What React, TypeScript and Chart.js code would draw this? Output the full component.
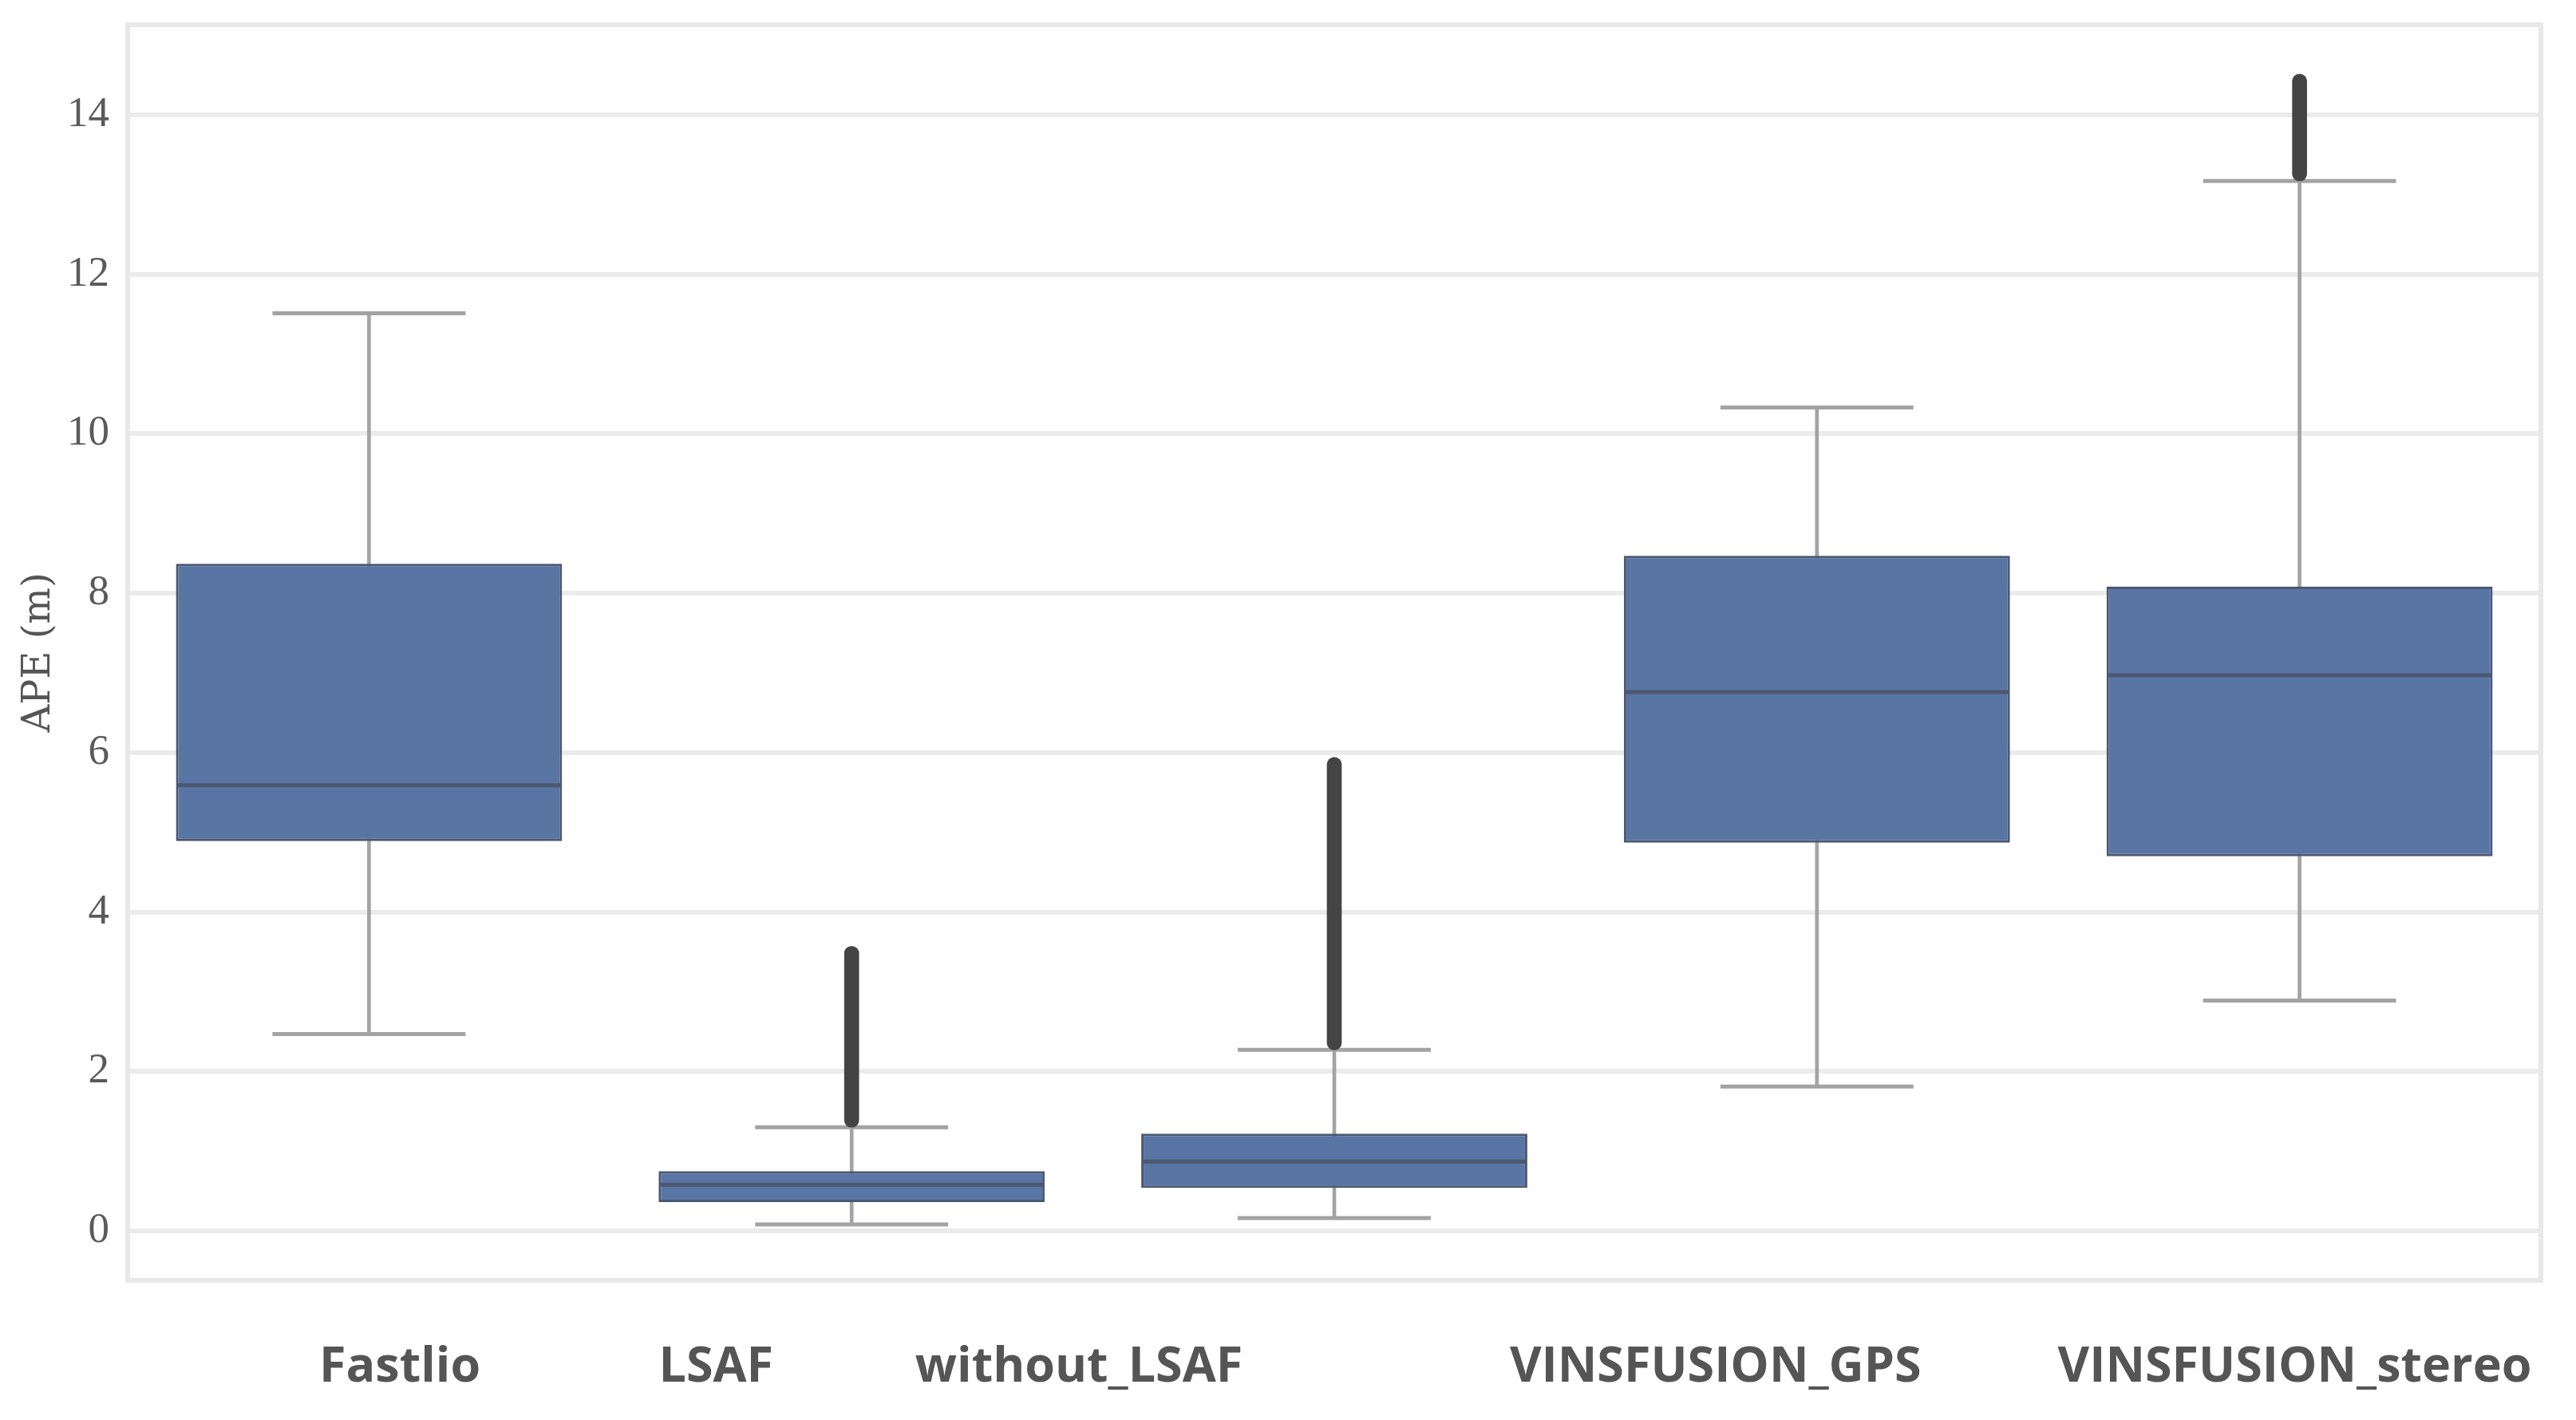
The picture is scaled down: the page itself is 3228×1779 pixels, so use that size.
import React, { useEffect, useRef } from 'react';
import { Chart, registerables } from 'chart.js';

Chart.register(...registerables);

// ---- data ----
const categories = ['Fastlio', 'LSAF', 'without_LSAF', 'VINSFUSION_GPS', 'VINSFUSION_stereo'];
const whiskerLow = [2.47, 0.08, 0.16, 1.81, 2.89];
const q1 = [4.89, 0.36, 0.54, 4.87, 4.7];
const median = [5.59, 0.58, 0.87, 6.76, 6.97];
const q3 = [8.37, 0.75, 1.22, 8.47, 8.08];
const whiskerHigh = [11.51, 1.3, 2.27, 10.33, 13.17];
const outlierLow: (number | null)[] = [null, 1.3, 2.27, null, 13.17];
const outlierHigh: (number | null)[] = [null, 3.57, 5.94, null, 14.51];
const yTicks = [0, 2, 4, 6, 8, 10, 12, 14];
const yAxisTitle = 'APE (m)';

// label placement (category units) — the pasted labels are shifted off the box centres
const labelShift = [0.064, -0.281, -0.529, -0.21, -0.01];

const BOX_FILL = '#5975a4';
const BOX_EDGE = '#4c5870';
const WHISKER = '#a3a3a3';
const FLIER = '#444444';

const catWidth = (chart: any) => {
  const x = chart.scales.x;
  return x.getPixelForValue(1) - x.getPixelForValue(0);
};

const framePlugin = {
  id: 'frame',
  beforeDatasetsDraw(chart: any) {
    const { ctx, chartArea } = chart;
    ctx.save();
    ctx.strokeStyle = '#e8e8e8';
    ctx.lineWidth = 6;
    ctx.strokeRect(chartArea.left, chartArea.top, chartArea.right - chartArea.left, chartArea.bottom - chartArea.top);
    ctx.restore();
  },
};

const xLabelPlugin = {
  id: 'xLabels',
  afterDraw(chart: any) {
    const { ctx } = chart;
    const x = chart.scales.x;
    ctx.save();
    ctx.font = 'bold 61px "Open Sans"';
    ctx.fillStyle = '#555555';
    ctx.textAlign = 'center';
    ctx.textBaseline = 'alphabetic';
    categories.forEach((c, i) => {
      ctx.fillText(c, x.getPixelForValue(i + labelShift[i]), 1731);
    });
    ctx.restore();
  },
};

export default function App() {
  const ref = useRef<HTMLCanvasElement | null>(null);

  useEffect(() => {
    if (!ref.current) return;
    const capRadius = (c: any) => catWidth(c.chart) * 0.2;
    const medRadius = (c: any) => catWidth(c.chart) * 0.4 - 2;
    const chart = new Chart(ref.current, {
      type: 'bar',
      data: {
        labels: categories,
        datasets: [
          {
            type: 'bar',
            label: 'whisker',
            data: categories.map((_, i) => [whiskerLow[i], whiskerHigh[i]]) as any,
            backgroundColor: WHISKER,
            barThickness: 4,
            grouped: false,
            borderWidth: 0,
            order: 6,
          } as any,
          {
            type: 'line',
            label: 'capLow',
            data: whiskerLow,
            showLine: false,
            pointStyle: 'line',
            pointBorderColor: WHISKER,
            pointBackgroundColor: WHISKER,
            pointBorderWidth: 5,
            pointRadius: capRadius,
            pointHoverRadius: capRadius,
            order: 5,
          } as any,
          {
            type: 'line',
            label: 'capHigh',
            data: whiskerHigh,
            showLine: false,
            pointStyle: 'line',
            pointBorderColor: WHISKER,
            pointBackgroundColor: WHISKER,
            pointBorderWidth: 5,
            pointRadius: capRadius,
            pointHoverRadius: capRadius,
            order: 5,
          } as any,
          {
            type: 'bar',
            label: 'box',
            data: categories.map((_, i) => [q1[i], q3[i]]) as any,
            backgroundColor: BOX_FILL,
            borderColor: BOX_EDGE,
            borderWidth: 3,
            borderSkipped: false,
            barPercentage: 0.8,
            categoryPercentage: 1,
            grouped: false,
            order: 4,
          } as any,
          {
            type: 'line',
            label: 'median',
            data: median,
            showLine: false,
            pointStyle: 'line',
            pointBorderColor: BOX_EDGE,
            pointBackgroundColor: BOX_EDGE,
            pointBorderWidth: 5,
            pointRadius: medRadius,
            pointHoverRadius: medRadius,
            order: 3,
          } as any,
          {
            type: 'bar',
            label: 'outliers',
            data: categories.map((_, i) =>
              outlierLow[i] == null ? null : [outlierLow[i], outlierHigh[i]]
            ) as any,
            backgroundColor: FLIER,
            barThickness: 18,
            borderRadius: 9,
            borderSkipped: false,
            borderWidth: 0,
            grouped: false,
            order: 2,
          } as any,
        ],
      },
      options: {
        animation: false,
        responsive: false,
        devicePixelRatio: 1,
        layout: { padding: { left: 0, top: 31, right: 44, bottom: 0 } },
        plugins: {
          legend: { display: false },
          tooltip: { enabled: false },
        },
        events: [],
        scales: {
          x: {
            type: 'category',
            offset: true,
            grid: { display: false },
            border: { display: false },
            ticks: { display: false },
            afterFit: (s: any) => {
              s.height = 175;
              s.paddingLeft = 0;
              s.paddingRight = 0;
            },
          },
          y: {
            type: 'linear',
            min: -0.62,
            max: 15.13,
            afterBuildTicks: (s: any) => {
              s.ticks = yTicks.map((v) => ({ value: v }));
            },
            afterFit: (s: any) => {
              s.width = 160;
              s.paddingTop = 0;
              s.paddingBottom = 0;
            },
            grid: { color: '#ebebeb', lineWidth: 6, drawTicks: false },
            border: { display: false },
            ticks: {
              padding: 23,
              color: '#5a5a5a',
              font: { family: '"Liberation Serif"', size: 53 },
            },
            title: {
              display: true,
              text: yAxisTitle,
              color: '#555555',
              font: { family: '"DejaVu Serif"', size: 48 },
              padding: { top: 21, bottom: 0 },
            },
          },
        },
      } as any,
      plugins: [framePlugin, xLabelPlugin],
    });
    return () => chart.destroy();
  }, []);

  return (
    <div style={{ position: 'fixed', left: 0, top: 0, width: 3228, height: 1779, background: '#ffffff' }}>
      <canvas ref={ref} width={3228} height={1779} style={{ width: 3228, height: 1779, display: 'block' }} />
    </div>
  );
}
